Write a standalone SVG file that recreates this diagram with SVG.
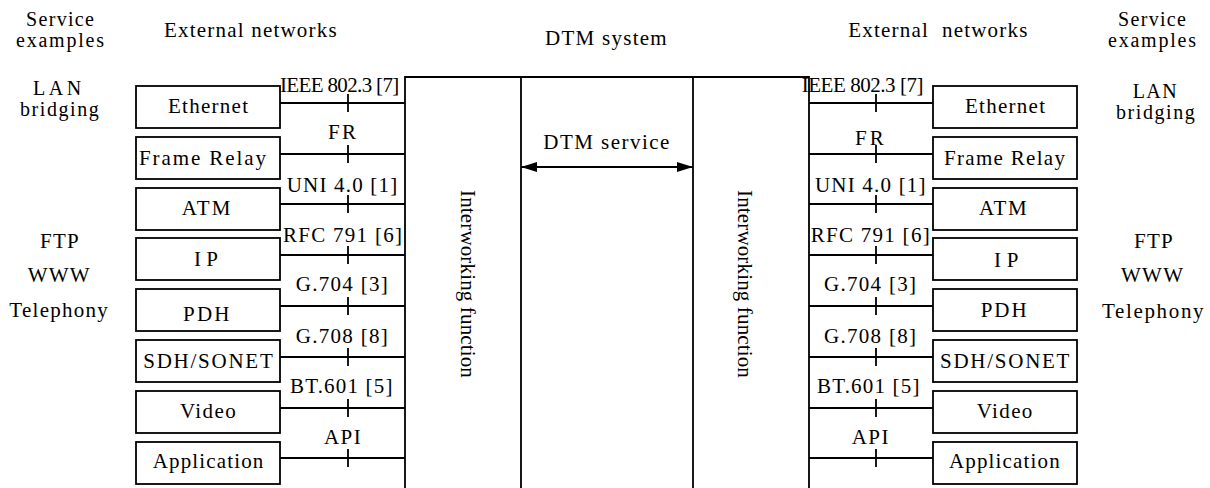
<svg xmlns="http://www.w3.org/2000/svg" width="1210" height="488" viewBox="0 0 1210 488" font-family="'Liberation Serif', 'Times New Roman', serif" letter-spacing="1.25">
  <style>
    text { font-family: "Liberation Serif", "Times New Roman", serif; font-size: 21px; fill: #000; }
    text.stack { font-size: 20px; }
    .box { fill: #fff; stroke: #000; stroke-width: 1.8; }
    .wire { fill: none; stroke: #000; stroke-width: 1.8; }
    .tick { fill: none; stroke: #000; stroke-width: 1.8; }
  </style>
  <defs>
    <marker id="head" markerUnits="userSpaceOnUse" markerWidth="16" markerHeight="10" refX="16" refY="5" orient="auto-start-reverse">
      <path d="M0,0 L16,5 L0,10 z" fill="#000"/>
    </marker>
  </defs>
  <rect width="1210" height="488" fill="#fff"/>

  <!-- column headings -->
  <g id="headings">
    <text class="stack" x="26" y="26" letter-spacing="1.33">Service</text>
    <text class="stack" x="16" y="47" letter-spacing="1.78">examples</text>
    <text x="164" y="37" letter-spacing="1.2">External networks</text>
    <text x="545" y="45" letter-spacing="1.27">DTM system</text>
    <text x="848.3" y="37" letter-spacing="1.2" xml:space="preserve">External  networks</text>
    <text class="stack" x="1118" y="26" letter-spacing="1.33">Service</text>
    <text class="stack" x="1108" y="47" letter-spacing="1.78">examples</text>
  </g>

  <!-- service examples -->
  <g id="services-left">
    <text class="stack" x="33" y="95" letter-spacing="3.6">LAN</text>
    <text class="stack" x="20" y="116" letter-spacing="1.56">bridging</text>
    <text x="40" y="248" letter-spacing="1.2">FTP</text>
    <text x="27.7" y="282">WWW</text>
    <text x="9.3" y="317" letter-spacing="1.28">Telephony</text>
  </g>
  <g id="services-right">
    <text class="stack" x="1132.7" y="98" letter-spacing="1.45">LAN</text>
    <text class="stack" x="1116" y="119" letter-spacing="1.56">bridging</text>
    <text x="1134" y="248" letter-spacing="1.2">FTP</text>
    <text x="1121" y="282">WWW</text>
    <text x="1102" y="318" letter-spacing="1.65">Telephony</text>
  </g>

  <!-- DTM system frame -->
  <g id="dtm-system">
    <path class="wire" d="M405,488 V77 H809 V488 M521,77 V488 M693,77 V488"/>
    <text x="543.3" y="149" letter-spacing="1.46">DTM service</text>
    <text transform="translate(461,190) rotate(90)" letter-spacing="0.15">Interworking function</text>
    <text transform="translate(738,190) rotate(90)" letter-spacing="0.15">Interworking function</text>
  </g>

  <!-- connectors: network boxes to the interworking functions -->
  <g id="connectors">
    <path class="wire" d="M280,103 H405 M280,154 H405 M280,204 H405 M280,255 H405 M280,306 H405 M280,357 H405 M280,408 H405 M280,458 H405"/>
    <path class="tick" d="M348,94 V112 M348,145 V163 M348,195 V213 M348,246 V264 M348,297 V315 M348,348 V366 M348,399 V417 M348,449 V467"/>
    <path class="wire" d="M809,103 H933 M809,154 H933 M809,204 H933 M809,255 H933 M809,306 H933 M809,357 H933 M809,408 H933 M809,458 H933"/>
    <path class="tick" d="M876,94 V112 M876,145 V163 M876,195 V213 M876,246 V264 M876,297 V315 M876,348 V366 M876,399 V417 M876,449 V467"/>
    <line class="wire" x1="521" y1="167" x2="693" y2="167" marker-start="url(#head)" marker-end="url(#head)"/>
  </g>

  <!-- interface labels -->
  <g id="interfaces-left">
    <text x="280" y="92" letter-spacing="-0.65">IEEE 802.3 [7]</text>
    <text x="328" y="139" letter-spacing="2.3">FR</text>
    <text x="286.7" y="192" letter-spacing="1.2">UNI 4.0 [1]</text>
    <text x="283" y="242" letter-spacing="1.28">RFC 791 [6]</text>
    <text x="295.7" y="291" letter-spacing="1.3">G.704 [3]</text>
    <text x="295.7" y="343" letter-spacing="1.3">G.708 [8]</text>
    <text x="290" y="393" letter-spacing="1.19">BT.601 [5]</text>
    <text x="324" y="444" letter-spacing="1.45">API</text>
  </g>
  <g id="interfaces-right">
    <text x="801.7" y="92" letter-spacing="-0.45">IEEE 802.3 [7]</text>
    <text x="855" y="145" letter-spacing="3">FR</text>
    <text x="815" y="192" letter-spacing="1.2">UNI 4.0 [1]</text>
    <text x="810.7" y="242" letter-spacing="1.28">RFC 791 [6]</text>
    <text x="824" y="291" letter-spacing="1.3">G.704 [3]</text>
    <text x="824" y="343" letter-spacing="1.3">G.708 [8]</text>
    <text x="817" y="393" letter-spacing="1.19">BT.601 [5]</text>
    <text x="851.7" y="444" letter-spacing="1.45">API</text>
  </g>

  <!-- external network boxes, left -->
  <g id="ethernet-l"><rect class="box" x="136" y="86" width="144" height="42"/><text x="168" y="113" letter-spacing="1.27">Ethernet</text></g>
  <g id="framerelay-l"><rect class="box" x="136" y="137" width="144" height="42"/><text x="139" y="165" letter-spacing="1.9">Frame Relay</text></g>
  <g id="atm-l"><rect class="box" x="136" y="188" width="144" height="42"/><text x="181.7" y="215" letter-spacing="2.15">ATM</text></g>
  <g id="ip-l"><rect class="box" x="136" y="238" width="144" height="42"/><text x="194" y="266" letter-spacing="5.3">IP</text></g>
  <g id="pdh-l"><rect class="box" x="136" y="289" width="144" height="42"/><text x="183" y="321" letter-spacing="2.25">PDH</text></g>
  <g id="sdh-l"><rect class="box" x="136" y="340" width="144" height="42"/><text x="143.3" y="368" letter-spacing="1.74">SDH/SONET</text></g>
  <g id="video-l"><rect class="box" x="136" y="391" width="144" height="42"/><text x="180" y="418" letter-spacing="1.4">Video</text></g>
  <g id="application-l"><rect class="box" x="136" y="442" width="144" height="42"/><text x="152.7" y="468" letter-spacing="1.15">Application</text></g>

  <!-- external network boxes, right -->
  <g id="ethernet-r"><rect class="box" x="933" y="86" width="144" height="42"/><text x="965" y="113" letter-spacing="1.27">Ethernet</text></g>
  <g id="framerelay-r"><rect class="box" x="933" y="137" width="144" height="42"/><text x="944" y="165" letter-spacing="1.3">Frame Relay</text></g>
  <g id="atm-r"><rect class="box" x="933" y="188" width="144" height="42"/><text x="979" y="215" letter-spacing="1.65">ATM</text></g>
  <g id="ip-r"><rect class="box" x="933" y="238" width="144" height="42"/><text x="994" y="267" letter-spacing="5.8">IP</text></g>
  <g id="pdh-r"><rect class="box" x="933" y="289" width="144" height="42"/><text x="980.7" y="317" letter-spacing="2">PDH</text></g>
  <g id="sdh-r"><rect class="box" x="933" y="340" width="144" height="42"/><text x="940" y="368" letter-spacing="1.74">SDH/SONET</text></g>
  <g id="video-r"><rect class="box" x="933" y="391" width="144" height="42"/><text x="976.7" y="418" letter-spacing="1.4">Video</text></g>
  <g id="application-r"><rect class="box" x="933" y="442" width="144" height="42"/><text x="949" y="468" letter-spacing="1.15">Application</text></g>
</svg>
